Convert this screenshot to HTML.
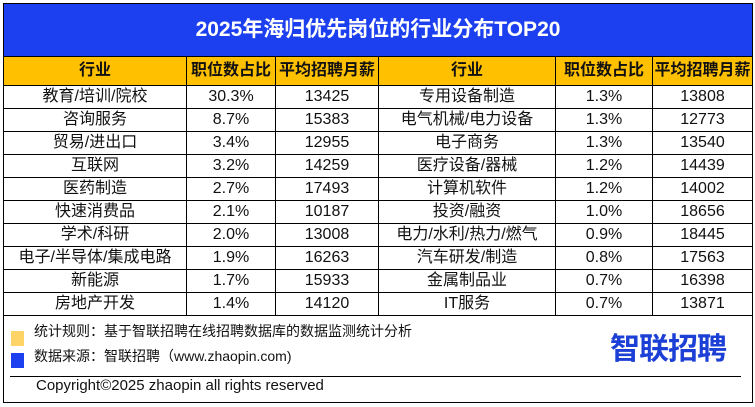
<!DOCTYPE html><html><head><meta charset="utf-8"><style>
body{margin:0;width:755px;height:407px;background:#fff;position:relative;overflow:hidden;font-family:"Liberation Sans","Noto Sans CJK SC",sans-serif}
.box{position:absolute;left:3px;top:3px;width:748px;height:398px;border:1px solid #000}
.title{position:absolute;left:4px;top:4px;width:748px;height:52px;background:#1c3ff0;color:#fff;font-weight:bold;font-size:21px;text-align:center;line-height:52px}
table{position:absolute;left:3px;top:56px;border-collapse:collapse;table-layout:fixed}
td{border:1px solid #000;text-align:center;font-size:16px;height:22px;padding:0;line-height:22px;color:#111;white-space:nowrap;overflow:hidden}
tr.h td{background:#ffc000;font-weight:bold;font-size:16px;height:28px}
.t{position:absolute;font-size:14px;color:#111}
</style></head><body>
<div class="box"></div>
<div class="title">2025年海归优先岗位的行业分布TOP20</div>
<table>
<colgroup><col style="width:183px"><col style="width:89px"><col style="width:103px"><col style="width:177px"><col style="width:97px"><col style="width:100px"></colgroup>
<tr class="h"><td>行业</td><td>职位数占比</td><td>平均招聘月薪</td><td>行业</td><td>职位数占比</td><td>平均招聘月薪</td></tr>
<tr><td>教育/培训/院校</td><td>30.3%</td><td>13425</td><td>专用设备制造</td><td>1.3%</td><td>13808</td></tr>
<tr><td>咨询服务</td><td>8.7%</td><td>15383</td><td>电气机械/电力设备</td><td>1.3%</td><td>12773</td></tr>
<tr><td>贸易/进出口</td><td>3.4%</td><td>12955</td><td>电子商务</td><td>1.3%</td><td>13540</td></tr>
<tr><td>互联网</td><td>3.2%</td><td>14259</td><td>医疗设备/器械</td><td>1.2%</td><td>14439</td></tr>
<tr><td>医药制造</td><td>2.7%</td><td>17493</td><td>计算机软件</td><td>1.2%</td><td>14002</td></tr>
<tr><td>快速消费品</td><td>2.1%</td><td>10187</td><td>投资/融资</td><td>1.0%</td><td>18656</td></tr>
<tr><td>学术/科研</td><td>2.0%</td><td>13008</td><td>电力/水利/热力/燃气</td><td>0.9%</td><td>18445</td></tr>
<tr><td>电子/半导体/集成电路</td><td>1.9%</td><td>16263</td><td>汽车研发/制造</td><td>0.8%</td><td>17563</td></tr>
<tr><td>新能源</td><td>1.7%</td><td>15933</td><td>金属制品业</td><td>0.7%</td><td>16398</td></tr>
<tr><td>房地产开发</td><td>1.4%</td><td>14120</td><td>IT服务</td><td>0.7%</td><td>13871</td></tr>
</table>
<div style="position:absolute;left:11px;top:331px;width:13px;height:15px;background:#ffd466"></div>
<div style="position:absolute;left:11px;top:353px;width:13px;height:15px;background:#1c3ff0"></div>
<div class="t" style="left:34px;top:321px">统计规则：基于智联招聘在线招聘数据库的数据监测统计分析</div>
<div class="t" style="left:34px;top:346px">数据来源：智联招聘（www.zhaopin.com)</div>
<div style="position:absolute;left:610px;top:332px;font-size:30px;font-weight:bold;color:#1c3fd6;letter-spacing:-1px;line-height:36px">智联招聘</div>
<div style="position:absolute;left:10px;top:376px;width:731px;height:1px;background:#000"></div>
<div class="t" style="left:36px;top:377px;font-size:15px">Copyright©2025 zhaopin all rights reserved</div>
</body></html>
